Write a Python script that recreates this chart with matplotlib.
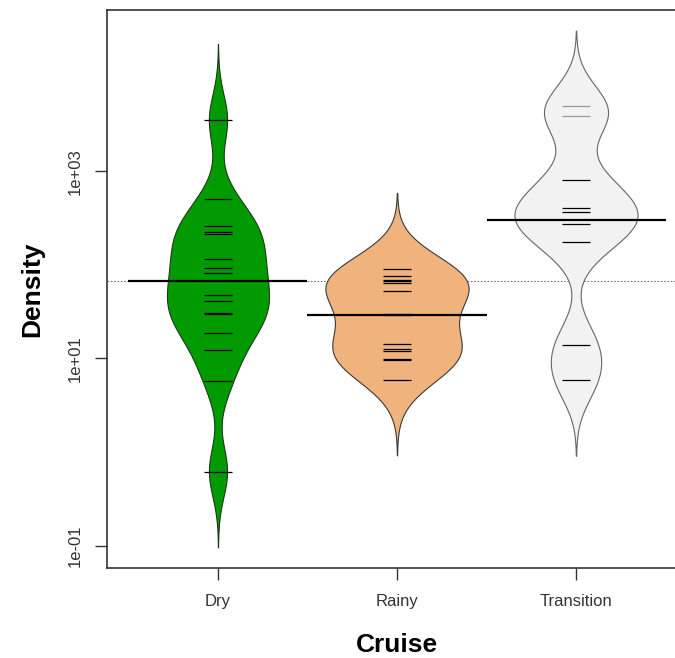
import numpy as np
import matplotlib.pyplot as plt

plt.rcParams['font.family'] = ['Liberation Sans', 'DejaVu Sans']

# values (Density per cruise)
cruises = ['Dry', 'Rainy', 'Transition']
dry = [3560, 508, 258, 222, 214, 116, 93, 81, 47.6, 41, 30.5, 29.5, 18.5, 12.3, 5.8, 0.62]
rainy = [91, 75.9, 69.5, 67.8, 63.8, 52.5, 30.2, 29.4, 14.4, 12.5, 12.1, 9.9, 9.6, 5.96]
transition = [4920, 3850, 815, 409, 371, 273, 175, 14.1, 5.9]
bean_means = [67, 28.8, 299]
overall_mean = 68
fills = ['#019b01', '#f0b37e', '#f2f2f2']
borders = ['#1a3a1a', '#3a3a3a', '#666666']

bw = 0.27  # kernel sd in log10 units


def kde(logv, grid):
    z = (grid[:, None] - logv[None, :]) / bw
    return np.exp(-0.5 * z ** 2).sum(axis=1) / (len(logv) * bw * np.sqrt(2 * np.pi))


groups = [np.log10(np.array(g)) for g in (dry, rainy, transition)]
curves = []
for lv in groups:
    grid = np.linspace(lv.min() - 3 * bw, lv.max() + 3 * bw, 400)
    curves.append((grid, kde(lv, grid)))
dmax = max(d.max() for _, d in curves)

fig = plt.figure(figsize=(6.75, 6.58), dpi=100)
ax = fig.add_axes([107 / 675, 90 / 658, 580 / 675, 558 / 658])
ax.set_yscale('log')

ax.axhline(overall_mean, color='#777777', lw=0.8, ls=(0, (1.5, 1.5)), zorder=1)

for i, (lv, (grid, dens)) in enumerate(zip(groups, curves)):
    x = i + 1
    w = dens / dmax * 0.4
    ax.fill_betweenx(10 ** grid, x - w, x + w, facecolor=fills[i],
                     edgecolor=borders[i], lw=0.8, zorder=2)
    cols = ['#999999' if (i == 2 and v > 3) else 'black' for v in lv]
    ax.hlines(10 ** lv, x - 0.08, x + 0.08, colors=cols, lw=0.9, zorder=3)
    ax.hlines(bean_means[i], x - 0.5, x + 0.5, color='black', lw=1.6, zorder=4)

lo = min(g.min() for g, _ in curves)
hi = max(g.max() for g, _ in curves)
r = hi - lo
ax.set_ylim(10 ** (lo - 0.04 * r), 10 ** (hi + 0.04 * r))
ax.set_xlim(0.38, 3.62)

ax.set_xticks([1, 2, 3])
ax.set_xticklabels(cruises)
ax.set_yticks([0.1, 10, 1000])
ax.set_yticklabels(['1e-01', '1e+01', '1e+03'], rotation=90, va='center')
ax.minorticks_off()
ax.tick_params(axis='both', length=8.5, width=1, color='#333333',
               labelsize=12, labelcolor='#333333')
ax.tick_params(axis='x', pad=10)
ax.tick_params(axis='y', pad=9)
for s in ax.spines.values():
    s.set_color('#333333')
    s.set_linewidth(1.2)

ax.set_xlabel('Cruise', fontsize=19, fontweight='bold', va='center')
ax.set_ylabel('Density', fontsize=19, fontweight='bold', va='center')
ax.xaxis.set_label_coords(0.5, (568 - 645) / 558)
ax.yaxis.set_label_coords((32 - 107) / 580, 0.5)

fig.savefig('out.png', dpi=100)
